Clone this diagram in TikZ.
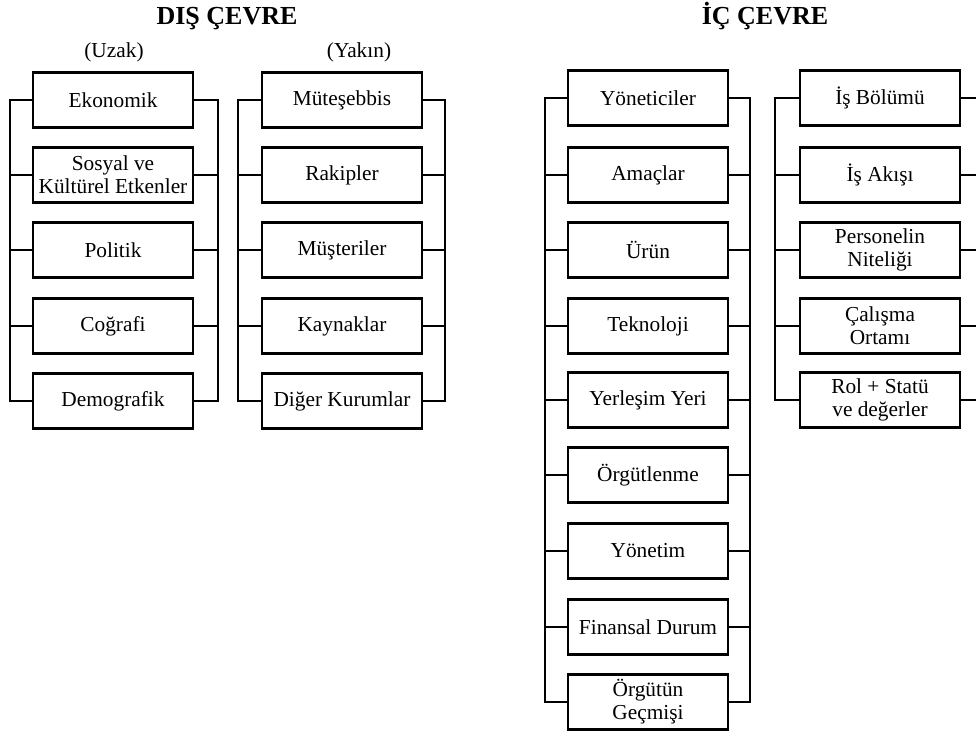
\documentclass[tikz,border=0pt]{standalone}
\usepackage{fontspec}
\setmainfont{Liberation Serif}
\begin{document}
\begin{tikzpicture}
    [
    x=0.75pt,y=-0.75pt,
    line width=2.1pt,
    box/.style={draw,minimum width=120pt,minimum height=41pt,inner sep=1pt,align=center,font=\fontsize{16}{17.2}\selectfont},
    title/.style={anchor=base,font=\fontsize{19.5}{21}\selectfont\bfseries},
    sub/.style={anchor=base,font=\fontsize{16}{17.2}\selectfont},
    ]
    \useasboundingbox (0,0) rectangle (976,737);
    \node (dis) at (227,25) [title] {DIŞ ÇEVRE};
    \node (ic) at (765,25) [title] {İÇ ÇEVRE};
    \node (uzak) at (114,58) [sub] {(Uzak)};
    \node (yakin) at (359,58) [sub] {(Yakın)};
    % uzak
    \node (u1) at (113,100) [box] {Ekonomik};
    \node (u2) at (113,175) [box] {Sosyal ve\\Kültürel Etkenler};
    \node (u3) at (113,250) [box] {Politik};
    \node (u4) at (113,326) [box] {Coğrafi};
    \node (u5) at (113,401) [box] {Demografik};
    % yakin
    \node (y1) at (342,100) [box] {Müteşebbis};
    \node (y2) at (342,175) [box] {Rakipler};
    \node (y3) at (342,250) [box] {Müşteriler};
    \node (y4) at (342,326) [box] {Kaynaklar};
    \node (y5) at (342,401) [box] {Diğer Kurumlar};
    % ic cevre
    \node (o1) at (648,98) [box] {Yöneticiler};
    \node (o2) at (648,175) [box] {Amaçlar};
    \node (o3) at (648,250) [box] {Ürün};
    \node (o4) at (648,326) [box] {Teknoloji};
    \node (o5) at (648,400) [box] {Yerleşim Yeri};
    \node (o6) at (648,475) [box] {Örgütlenme};
    \node (o7) at (648,551) [box] {Yönetim};
    \node (o8) at (648,627) [box] {Finansal Durum};
    \node (o9) at (648,702) [box] {Örgütün\\Geçmişi};
    \node (p1) at (880,98) [box] {İş Bölümü};
    \node (p2) at (880,175) [box] {İş Akışı};
    \node (p3) at (880,250) [box] {Personelin\\Niteliği};
    \node (p4) at (880,326) [box] {Çalışma\\Ortamı};
    \node (p5) at (880,400) [box] {Rol + Statü\\ve değerler};
    % busses
    \coordinate (uL) at (10,0);
    \coordinate (uR) at (218,0);
    \coordinate (yL) at (238,0);
    \coordinate (yR) at (445,0);
    \coordinate (oL) at (545,0);
    \coordinate (oR) at (750,0);
    \coordinate (pL) at (775,0);
    \coordinate (pR) at (980,0);
    \draw (u1.west) -- (u1.west -| uL) -- (u5.west -| uL) -- (u5.west);
    \draw (u1.east) -- (u1.east -| uR) -- (u5.east -| uR) -- (u5.east);
    \draw (y1.west) -- (y1.west -| yL) -- (y5.west -| yL) -- (y5.west);
    \draw (y1.east) -- (y1.east -| yR) -- (y5.east -| yR) -- (y5.east);
    \foreach \i in {2,3,4} {
      \draw (u\i.west) -- (u\i.west -| uL);
      \draw (u\i.east) -- (u\i.east -| uR);
      \draw (y\i.west) -- (y\i.west -| yL);
      \draw (y\i.east) -- (y\i.east -| yR);
    }
    \draw (o1.west) -- (o1.west -| oL) -- (o9.west -| oL) -- (o9.west);
    \draw (o1.east) -- (o1.east -| oR) -- (o9.east -| oR) -- (o9.east);
    \foreach \i in {2,...,8} {
      \draw (o\i.west) -- (o\i.west -| oL);
      \draw (o\i.east) -- (o\i.east -| oR);
    }
    \draw (p1.west) -- (p1.west -| pL) -- (p5.west -| pL) -- (p5.west);
    \foreach \i in {2,3,4}
      \draw (p\i.west) -- (p\i.west -| pL);
    \foreach \i in {1,...,5}
      \draw (p\i.east) -- (p\i.east -| pR);
  \end{tikzpicture}
\end{document}
